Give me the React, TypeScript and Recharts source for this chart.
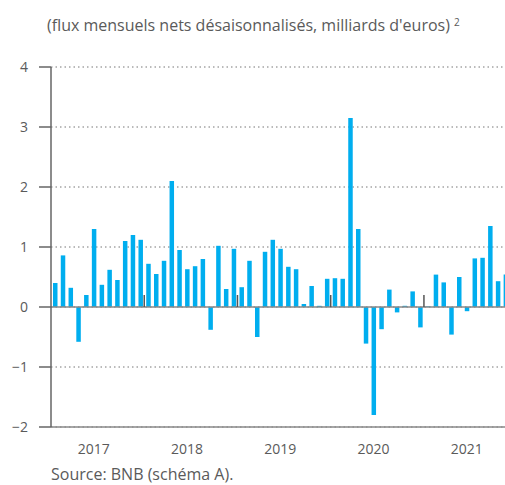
import React from 'react';
import { BarChart, Bar, XAxis, YAxis, CartesianGrid, ReferenceLine } from 'recharts';

// monthly net flows, Jan 2017 onwards
const flows2017 = [0.4, 0.86, 0.32, -0.58, 0.2, 1.3, 0.37, 0.62, 0.45, 1.1, 1.2, 1.12];
const flows2018 = [0.72, 0.55, 0.77, 2.1, 0.95, 0.63, 0.68, 0.8, -0.38, 1.02, 0.3, 0.97];
const flows2019 = [0.33, 0.77, -0.5, 0.92, 1.12, 0.97, 0.67, 0.63, 0.05, 0.35, 0.02, 0.47];
const flows2020 = [0.48, 0.47, 3.15, 1.3, -0.61, -1.8, -0.37, 0.29, -0.09, 0.02, 0.26, -0.34];
const flows2021 = [0.01, 0.54, 0.41, -0.46, 0.5, -0.07, 0.81, 0.82, 1.35, 0.43, 0.54];

const years = [2017, 2018, 2019, 2020, 2021];
const yTicks = [-2, -1, 0, 1, 2, 3, 4];
const yearLabelTicks = [5.5, 17.5, 29.5, 41.5, 53.5];
const yearBounds = [12, 24, 36, 48];

const allFlows = [...flows2017, ...flows2018, ...flows2019, ...flows2020, ...flows2021];
const chartData = allFlows.map((v, i) => ({ t: i + 0.5, value: v }));

const FONT = '"Open Sans", sans-serif';
const TXT = '#5a5a5a';
const BLUE = '#00aeef';

export default function App() {
  return (
    <div style={{ position: 'absolute', left: 0, top: 0, width: 505, height: 485, overflow: 'hidden', background: '#fff', fontFamily: FONT }}>
      <div style={{ position: 'absolute', left: 47, top: 14, fontSize: 16, lineHeight: '16px', color: TXT, whiteSpace: 'nowrap' }}>
        (flux mensuels nets désaisonnalisés, milliards d'euros)
        <span style={{ fontSize: 10, marginLeft: 4, verticalAlign: 5 }}>2</span>
      </div>

      <div style={{ position: 'absolute', left: 0, top: 0 }}>
        <BarChart
          width={520}
          height={485}
          data={chartData}
          margin={{ top: 67, right: 10.6, bottom: 28, left: 0 }}
        >
          <CartesianGrid vertical={false} stroke="#777" strokeDasharray="1.5 3" />
          <XAxis
            type="number"
            dataKey="t"
            domain={[0, 59]}
            ticks={yearLabelTicks}
            tickFormatter={(v) => String(years[Math.floor(v / 12)])}
            axisLine={{ stroke: '#888', strokeWidth: 1.5 }}
            tickLine={false}
            tickMargin={11}
            height={30}
            tick={{ fill: TXT, fontSize: 14, fontFamily: FONT }}
            allowDataOverflow
          />
          <YAxis
            domain={[-2, 4]}
            ticks={yTicks}
            width={51}
            tickSize={12}
            tickMargin={11}
            axisLine={{ stroke: '#666', strokeWidth: 1.5 }}
            tickLine={{ stroke: '#666', strokeWidth: 1.5 }}
            tickFormatter={(v) => String(v).replace('-', '\u2212')}
            tick={{ fill: TXT, fontSize: 14, fontFamily: FONT }}
          />
          <Bar dataKey="value" fill={BLUE} barSize={4.5} isAnimationActive={false} />
          <ReferenceLine y={0} stroke="#888" strokeWidth={1.5} />
          {yearBounds.map((b) => (
            <ReferenceLine
              key={b}
              segment={[{ x: b, y: 0 }, { x: b, y: 0.2 }]}
              stroke="#555"
              strokeWidth={1.5}
            />
          ))}
        </BarChart>
      </div>

      <div style={{ position: 'absolute', left: 51, top: 466, fontSize: 16, lineHeight: '16px', color: TXT, whiteSpace: 'nowrap' }}>
        Source: BNB (schéma A).
      </div>
    </div>
  );
}
